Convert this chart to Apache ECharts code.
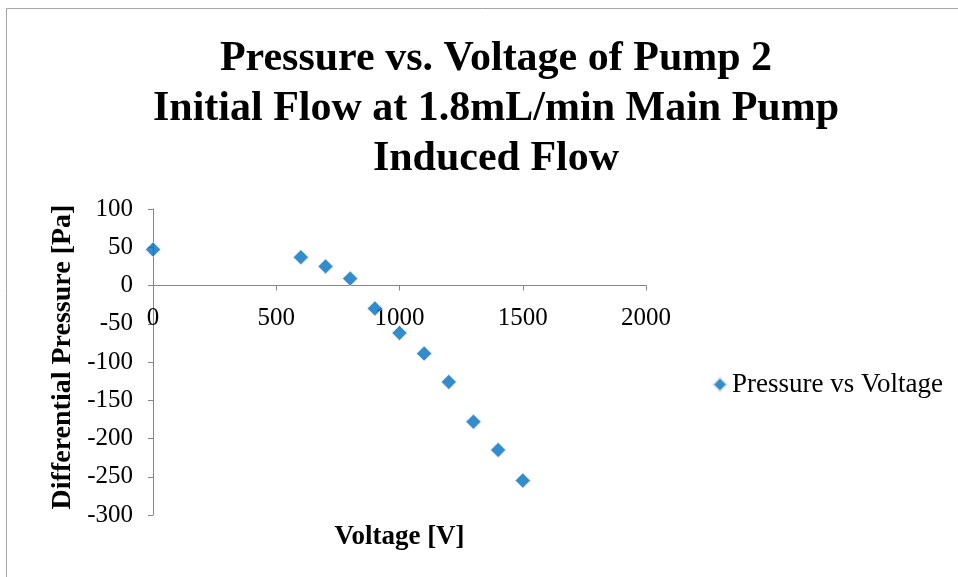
<!DOCTYPE html>
<html>
<head>
<meta charset="utf-8">
<script src="https://cdn.jsdelivr.net/npm/echarts@6/dist/echarts.min.js"></script>
<style>html,body{margin:0;padding:0;background:#fff}#c{width:958px;height:577px}</style>
</head>
<body>
<div id="c"></div>
<script>
const voltage = [0, 600, 700, 800, 900, 1000, 1100, 1200, 1300, 1400, 1500];
const pressure = [47, 37, 25, 9, -30, -62, -89, -126, -178, -215, -255];
const seriesName = 'Pressure vs Voltage';
const titleText = 'Pressure vs. Voltage of Pump 2\nInitial Flow at 1.8mL/min Main Pump\nInduced Flow';
const xTitle = 'Voltage [V]';
const yTitle = 'Differential Pressure [Pa]';
const yMin = -300, yMax = 100, yStep = 50;
const xMin = 0, xMax = 2000, xStep = 500;

const font = '"Liberation Serif", "Times New Roman", serif';
const chart = echarts.init(document.getElementById('c'), null, {renderer: 'canvas'});
const axisCol = '#868686';
const option = {
  animation: false,
  backgroundColor: '#fff',
  graphic: [{
    type: 'rect', shape: {x: 6.5, y: 8.5, width: 960, height: 580},
    style: {fill: 'none', stroke: '#a6a6a6', lineWidth: 1}, silent: true
  }],
  title: {
    text: titleText,
    left: 491, top: 29, textAlign: 'center',
    textStyle: {fontFamily: font, fontSize: 42, fontWeight: 'bold', color: '#000', lineHeight: 50}
  },
  legend: {
    data: [seriesName], left: 707, top: 366, orient: 'vertical',
    icon: 'diamond', itemWidth: 14, itemHeight: 14, itemGap: 0,
    textStyle: {fontFamily: font, fontSize: 27, color: '#000', padding: [0, 0, 0, 0]}
  },
  grid: {left: 153, right: 312, top: 209, bottom: 62, containLabel: false, outerBoundsMode: 'none'},
  xAxis: [{
    type: 'value', min: xMin, max: xMax, interval: xStep, position: 'bottom', offset: 0,
    axisLine: {onZero: false, lineStyle: {color: axisCol}},
    axisTick: {show: true, length: 5, inside: false, lineStyle: {color: axisCol}},
    axisLabel: {fontFamily: font, fontSize: 25, color: '#000', margin: 20, formatter: v => String(v)},
    splitLine: {show: false}
  }, {
    type: 'value', min: xMin, max: xMax, position: 'bottom',
    name: xTitle, nameLocation: 'middle', nameGap: 9,
    nameTextStyle: {fontFamily: font, fontSize: 27, fontWeight: 'bold', color: '#000'},
    axisLine: {show: false, onZero: false}, axisTick: {show: false}, axisLabel: {show: false},
    splitLine: {show: false}
  }],
  yAxis: {
    type: 'value', min: yMin, max: yMax, interval: yStep,
    name: yTitle, nameLocation: 'middle', nameGap: 76, nameRotate: 90,
    nameTextStyle: {fontFamily: font, fontSize: 28, fontWeight: 'bold', color: '#000', padding: [0, 0, 0, 10]},
    axisLine: {show: true, onZero: false, lineStyle: {color: axisCol}},
    axisTick: {show: true, length: 5, lineStyle: {color: axisCol}},
    axisLabel: {fontFamily: font, fontSize: 25, color: '#000', margin: 20, formatter: v => String(v)},
    splitLine: {show: false}
  },
  series: [{
    name: seriesName, type: 'scatter', symbol: 'diamond', symbolSize: 15,
    xAxisIndex: 0,
    data: voltage.map((v, i) => [v, pressure[i]]),
    itemStyle: {color: '#0070C0', borderColor: '#e6e6e6', borderWidth: 0.8}
  }]
};
chart.setOption(option);
// place the x axis at y = 0 (value axis crossing) using the library's own scale
const zeroPx = chart.convertToPixel({yAxisIndex: 0}, 0);
const bottomPx = chart.convertToPixel({yAxisIndex: 0}, yMin);
chart.setOption({xAxis: [{offset: zeroPx - bottomPx}, {}]});
</script>
</body>
</html>
